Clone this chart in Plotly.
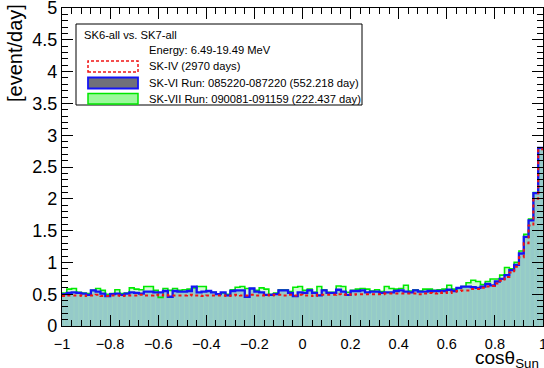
import numpy as np
import plotly.graph_objects as go

# ---------------- data (event/day per bin, 100 bins of cos(theta_sun) from -1 to 1) -------------
bin_edges = [round(-1 + 0.02 * i, 2) for i in range(101)]

sk6_vals = [
    0.50, 0.52, 0.53, 0.52, 0.51, 0.49, 0.56, 0.54, 0.51, 0.47,
    0.50, 0.51, 0.49, 0.51, 0.53, 0.52, 0.51, 0.54, 0.54, 0.53,
    0.53, 0.55, 0.46, 0.55, 0.54, 0.54, 0.55, 0.62, 0.53, 0.54,
    0.55, 0.53, 0.50, 0.53, 0.48, 0.55, 0.56, 0.56, 0.46, 0.59,
    0.54, 0.53, 0.49, 0.49, 0.50, 0.56, 0.56, 0.52, 0.47, 0.53,
    0.52, 0.56, 0.52, 0.48, 0.56, 0.52, 0.52, 0.57, 0.54, 0.49,
    0.55, 0.55, 0.56, 0.53, 0.54, 0.54, 0.52, 0.53, 0.53, 0.55,
    0.56, 0.54, 0.53, 0.56, 0.54, 0.54, 0.55, 0.55, 0.55, 0.55,
    0.57, 0.55, 0.60, 0.62, 0.62, 0.61, 0.60, 0.62, 0.66, 0.64,
    0.70, 0.74, 0.80, 0.88, 0.96, 1.14, 1.40, 1.66, 2.09, 2.80,
]

sk7_vals = [
    0.52, 0.58, 0.59, 0.53, 0.52, 0.51, 0.56, 0.59, 0.56, 0.50,
    0.51, 0.57, 0.51, 0.52, 0.60, 0.58, 0.57, 0.62, 0.62, 0.56,
    0.45, 0.59, 0.56, 0.59, 0.56, 0.57, 0.58, 0.60, 0.62, 0.62,
    0.55, 0.53, 0.50, 0.52, 0.50, 0.57, 0.61, 0.62, 0.59, 0.59,
    0.56, 0.60, 0.58, 0.50, 0.52, 0.57, 0.57, 0.54, 0.61, 0.62,
    0.56, 0.58, 0.53, 0.62, 0.57, 0.53, 0.53, 0.63, 0.62, 0.53,
    0.56, 0.58, 0.59, 0.58, 0.55, 0.57, 0.54, 0.62, 0.59, 0.58,
    0.59, 0.64, 0.55, 0.57, 0.55, 0.58, 0.58, 0.56, 0.57, 0.58,
    0.64, 0.58, 0.59, 0.62, 0.68, 0.72, 0.70, 0.65, 0.70, 0.74,
    0.74, 0.80, 0.92, 0.90, 1.00, 1.18, 1.44, 1.68, 2.10, 2.80,
]

sk4_vals = [
    0.47, 0.48, 0.48, 0.48, 0.47, 0.48, 0.48, 0.49, 0.47, 0.47,
    0.48, 0.48, 0.47, 0.48, 0.48, 0.48, 0.49, 0.48, 0.48, 0.49,
    0.48, 0.49, 0.48, 0.48, 0.48, 0.48, 0.49, 0.48, 0.48, 0.47,
    0.48, 0.48, 0.48, 0.48, 0.47, 0.48, 0.49, 0.48, 0.48, 0.49,
    0.48, 0.48, 0.49, 0.48, 0.49, 0.49, 0.48, 0.49, 0.48, 0.49,
    0.48, 0.48, 0.47, 0.49, 0.49, 0.49, 0.49, 0.50, 0.49, 0.50,
    0.49, 0.50, 0.50, 0.50, 0.50, 0.50, 0.50, 0.51, 0.51, 0.51,
    0.51, 0.51, 0.51, 0.51, 0.50, 0.51, 0.52, 0.51, 0.52, 0.53,
    0.52, 0.54, 0.55, 0.56, 0.56, 0.58, 0.58, 0.60, 0.62, 0.63,
    0.67, 0.71, 0.77, 0.84, 0.93, 1.08, 1.30, 1.58, 2.00, 2.78,
]

x_ticks = [-1, -0.8, -0.6, -0.4, -0.2, 0, 0.2, 0.4, 0.6, 0.8, 1]
x_tick_labels = ["\u22121", "\u22120.8", "\u22120.6", "\u22120.4", "\u22120.2", "0",
                 "0.2", "0.4", "0.6", "0.8", "1"]
y_ticks = [0, 0.5, 1, 1.5, 2, 2.5, 3, 3.5, 4, 4.5, 5]
y_tick_labels = ["0", "0.5", "1", "1.5", "2", "2.5", "3", "3.5", "4", "4.5", "5"]

legend_header = "SK6-all vs. SK7-all"
legend_energy = "Energy: 6.49-19.49 MeV"
legend_sk4 = "SK-IV (2970 days)"
legend_sk6 = "SK-VI Run: 085220-087220 (552.218 day)"
legend_sk7 = "SK-VII Run: 090081-091159 (222.437 day)"

# ---------------- layout geometry ----------------
W, H = 544, 368
L, R, T, B = 62, 1, 8, 42
PW, PH = W - L - R, H - T - B
FONT = "Liberation Sans, Arial, Helvetica, sans-serif"


def px(xp):
    return (xp - L) / PW


def py(yp):
    return (H - B - yp) / PH


def step(vals):
    return list(bin_edges), list(vals) + [vals[-1]]


fig = go.Figure()

# base fill (SK-VI pattern area)
xs, ys = step(sk6_vals)
fig.add_trace(go.Scatter(x=xs, y=ys, mode="lines", line=dict(shape="hv", width=0),
                         fill="tozeroy", fillcolor="rgb(166,188,240)", hoverinfo="skip",
                         showlegend=False))
# SK-VII green fill + line
xs7, ys7 = step(sk7_vals)
fig.add_trace(go.Scatter(x=xs7, y=ys7, mode="lines",
                         line=dict(shape="hv", width=1.6, color="rgb(0,235,0)"),
                         fill="tozeroy", fillcolor="rgba(110,235,110,0.30)",
                         fillpattern=dict(shape="|", fgcolor="rgba(185,255,165,0.55)",
                                          bgcolor="rgba(110,235,110,0.30)", size=4.8, solidity=0.12),
                         hoverinfo="skip", showlegend=False))
# SK-VI blue line
fig.add_trace(go.Scatter(x=xs, y=ys, mode="lines",
                         line=dict(shape="hv", width=2.3, color="rgb(20,20,245)"),
                         hoverinfo="skip", showlegend=False))
# SK-IV red dashed
xs4, ys4 = step(sk4_vals)
fig.add_trace(go.Scatter(x=xs4, y=ys4, mode="lines",
                         line=dict(shape="hv", width=2, color="rgb(240,20,20)", dash="3px,3px"),
                         hoverinfo="skip", showlegend=False))

axis_common = dict(
    showgrid=False, zeroline=False, showline=True, linecolor="black", linewidth=1.2,
    mirror="allticks", ticks="inside", tickcolor="black", tickwidth=1,
    ticklabeloverflow="allow", automargin=False,
)

fig.update_xaxes(range=[-1, 1], tickvals=x_ticks, ticktext=x_tick_labels, ticklen=11,
                 tickfont=dict(family=FONT, size=14.5, color="black"), ticklabelstandoff=4,
                 minor=dict(ticks="inside", dtick=0.04, tick0=-1, ticklen=6, tickcolor="black"),
                 **axis_common)
fig.update_yaxes(range=[0, 5], tickvals=y_ticks, ticktext=y_tick_labels, ticklen=11,
                 tickfont=dict(family=FONT, size=18, color="black"),
                 minor=dict(ticks="inside", dtick=0.1, tick0=0, ticklen=6, tickcolor="black"),
                 **axis_common)

shapes = []
annotations = []

# legend box
shapes.append(dict(type="rect", xref="paper", yref="paper",
                   x0=px(76), x1=px(362), y0=py(105), y1=py(24),
                   line=dict(color="black", width=1), fillcolor="white", layer="above"))
# legend symbols
shapes.append(dict(type="rect", xref="paper", yref="paper",
                   x0=px(88), x1=px(138), y0=py(72), y1=py(61),
                   line=dict(color="rgb(240,20,20)", width=1.5, dash="3px,2px"),
                   fillcolor="white", layer="above"))
shapes.append(dict(type="rect", xref="paper", yref="paper",
                   x0=px(88), x1=px(138), y0=py(88.5), y1=py(77.5),
                   line=dict(color="rgb(20,20,245)", width=1.8),
                   fillcolor="rgb(112,112,122)", layer="above"))
shapes.append(dict(type="rect", xref="paper", yref="paper",
                   x0=px(88), x1=px(138), y0=py(104), y1=py(93.5),
                   line=dict(color="rgb(0,230,0)", width=1.5),
                   fillcolor="rgb(155,250,155)", layer="above"))


def txt(s, xp, yp, size=11.2, xanchor="left", **kw):
    annotations.append(dict(text=s, xref="paper", yref="paper", x=px(xp), y=py(yp),
                            xanchor=xanchor, yanchor="middle", showarrow=False,
                            font=dict(family=FONT, size=size, color="black"), **kw))


txt(legend_header, 82, 34.5)
txt(legend_energy, 147, 50)
txt(legend_sk4, 147, 66)
txt(legend_sk6, 147, 82.5)
txt(legend_sk7, 147, 98.5)

# axis titles
annotations.append(dict(text="[event/day]", xref="paper", yref="paper", x=px(15), y=py(2),
                        xanchor="center", yanchor="top", textangle=-90, showarrow=False,
                        font=dict(family=FONT, size=20, color="black")))
annotations.append(dict(text="cos\u03b8<sub>Sun</sub>", xref="paper", yref="paper",
                        x=px(541), y=py(359), xanchor="right", yanchor="middle", showarrow=False,
                        font=dict(family=FONT, size=19, color="black")))

fig.update_layout(
    width=W, height=H, margin=dict(l=L, r=R, t=T, b=B, autoexpand=False),
    paper_bgcolor="white", plot_bgcolor="white",
    shapes=shapes, annotations=annotations, showlegend=False,
)

fig.write_html("out.html")
